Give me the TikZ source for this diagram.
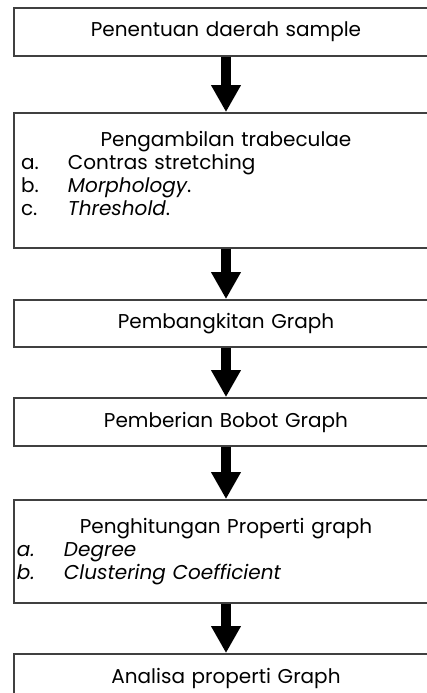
\documentclass[tikz,border=0pt]{standalone}
\usepackage{fontspec}
\setmainfont{Poppins}
\usetikzlibrary{positioning, arrows.meta}
\tikzstyle{Arrow} = [
%Block arrow between two steps:
line width = 5pt,
-{Triangle[width = 14pt, length = 13.5pt]}
]
\newcommand{\stepitem}[3]{\makebox[\hsize][l]{\hspace{#1}\makebox[23.5pt][l]{#2}#3}}

\begin{document}
\begin{tikzpicture}[x = 0.5pt, y = -0.5pt,
				stepbox/.style = {rectangle, draw = black!75, line width = 0.9pt, inner xsep = 0pt, text width = 212pt, align = center, minimum height = 24pt, font = \fontsize{10}{11.5}\selectfont},
			]
			\useasboundingbox (0,0) rectangle (427,693);
			\clip (0,0) rectangle (427,693);

			\node[stepbox](sample) at (226,32){Penentuan daerah sample};
			\node[stepbox, minimum height = 67.5pt](trabeculae) at (226,180.5){Pengambilan trabeculae\\
				\stepitem{3.5pt}{a.}{Contras stretching}\\
				\stepitem{3.5pt}{b.}{\textit{Morphology}.}\\
				\stepitem{3.5pt}{c.}{\textit{Threshold}.}\\[-4pt]
				\mbox{}};
			\node[stepbox, minimum height = 23.5pt](graph) at (226,323.5){Pembangkitan Graph};
			\node[stepbox](bobot) at (226,422){Pemberian Bobot Graph};
			\node[stepbox, minimum height = 51.5pt](properti) at (226,551.5){Penghitungan Properti graph\\
				\stepitem{1.5pt}{\textit{a.}}{\textit{Degree}}\\
				\stepitem{1.5pt}{\textit{b.}}{\textit{Clustering Coefficient}}};
			\node[stepbox](analisa) at (226,678){Analisa properti Graph};

			\draw[Arrow](sample)--(trabeculae);
			\draw[Arrow](trabeculae)--(graph);
			\draw[Arrow](graph)--(bobot);
			\draw[Arrow](bobot)--(properti);
			\draw[Arrow](properti)--(analisa);

		\end{tikzpicture}
\end{document}
